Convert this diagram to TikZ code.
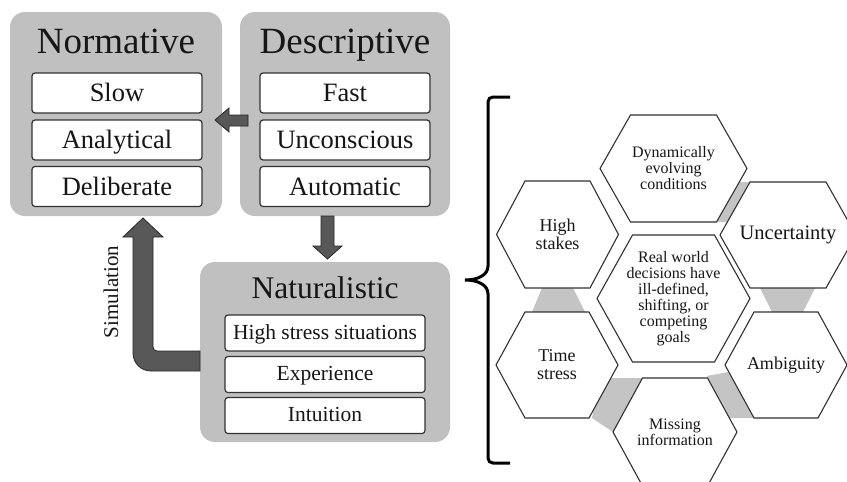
\documentclass[tikz,border=0pt]{standalone}
\usepackage{fontspec}
\setmainfont{Liberation Serif}

\definecolor{panel}{RGB}{192,192,192}
\definecolor{link}{RGB}{196,196,196}
\definecolor{arrowfill}{RGB}{88,88,88}
\definecolor{edge}{RGB}{50,50,50}
\definecolor{ink}{RGB}{22,22,22}

\newcommand\fs[1]{\fontsize{#1}{#1}\selectfont}

\tikzset{
  panelbox/.style={fill=panel, rounded corners=15pt, inner sep=0pt},
  itembox/.style={draw=edge, line width=1.2pt, fill=white, rounded corners=3pt,
    inner sep=0pt, text=ink},
  bigitem/.style={itembox, minimum width=170pt, minimum height=40pt,
    font=\fs{26.5}, text height=19pt, text depth=2pt},
  smallitem/.style={itembox, minimum width=200pt, minimum height=36pt,
    font=\fs{21.5}, text height=14pt, text depth=2pt},
  paneltitle/.style={anchor=base, text=ink, inner sep=0pt},
  blockarrow/.style={fill=arrowfill, draw=black!85, line width=0.8pt, line join=miter},
  hexline/.style={draw=edge, line width=1.1pt, fill=white, line join=miter},
  hextext/.style={align=center, text=ink, inner sep=0pt},
  linkfill/.style={fill=link},
}

% hexagon with pointed left/right ends: name, cx, cy, half width, half top edge, half height, font size, text
\newcommand\hexcell[8]{%
  \path[hexline] (#2-#4,#3) -- (#2-#5,#3-#6) -- (#2+#5,#3-#6) -- (#2+#4,#3)
    -- (#2+#5,#3+#6) -- (#2-#5,#3+#6) -- cycle;
  \node[hextext, font=\fs{#7}] (#1) at (#2,#3) {#8};
}

\begin{document}
\begin{tikzpicture}[x=1pt,y=-1pt]
\clip (0,0) rectangle (847,482);
\fill[white] (0,0) rectangle (847,482);

% ---- Normative panel ----
\node[panelbox, minimum width=212pt, minimum height=204pt] (norm) at (116,114) {};
\node[paneltitle, font=\fs{37}] (normT) at (116,53) {Normative};
\node[bigitem] (slow) at (117,93) {Slow};
\node[bigitem] (anal) at (117,140) {Analytical};
\node[bigitem] (deli) at (117,186.5) {Deliberate};

% ---- Descriptive panel ----
\node[panelbox, minimum width=210pt, minimum height=204pt] (desc) at (345,114) {};
\node[paneltitle, font=\fs{37}] (descT) at (345,53) {Descriptive};
\node[bigitem] (fast) at (345,93) {Fast};
\node[bigitem] (uncon) at (345,140) {Unconscious};
\node[bigitem] (auto) at (345,186.5) {Automatic};

% ---- Naturalistic panel ----
\node[panelbox, minimum width=250pt, minimum height=180pt] (nat) at (325,352) {};
\node[paneltitle, font=\fs{31.5}] (natT) at (325,298) {Naturalistic};
\node[smallitem] (stress) at (325,333) {High stress situations};
\node[smallitem] (exper) at (325,374.5) {Experience};
\node[smallitem] (intu) at (325,415.5) {Intuition};

% ---- block arrows between panels ----
% Descriptive -> Normative
\path[blockarrow] (248,115) -- (229,115) -- (229,108) -- (215,120) -- (229,132)
  -- (229,126) -- (248,126) -- cycle;
% Descriptive -> Naturalistic
\path[blockarrow] (321,216) -- (334,216) -- (334,246) -- (342,246) -- (327.5,259)
  -- (313,246) -- (321,246) -- cycle;
% Naturalistic -> Normative (elbow)
\path[blockarrow] (200,351) -- (157,351) .. controls (154.8,351) and (153,349.2) .. (153,347)
  -- (153,237) -- (163,237) -- (143,218) -- (123,237) -- (133,237) -- (133,353)
  .. controls (133,363) and (141,371) .. (151,371) -- (200,371) -- cycle;
\node[rotate=90, font=\fs{21}, text=ink, inner sep=0pt] (sim) at (111,292) {Simulation};

% ---- curly brace ----
\draw[line width=3pt, black] (510,97) -- (493,97) .. controls (490,97) and (488,99) .. (488,102)
  -- (488,266) .. controls (488,275) and (478,280) .. (465,280)
  .. controls (478,280) and (488,285) .. (488,294)
  -- (488,458) .. controls (488,461) and (490,463) .. (493,463) -- (510,463);

% ---- grey links between neighbouring hexagons ----
\path[linkfill] (542,288) -- (573,288) -- (585,312) -- (532,312) -- cycle;
\path[linkfill] (760,288) -- (815,288) -- (803,312) -- (772,312) -- cycle;
\path[linkfill] (735,182) -- (760,182) -- (730,222) -- (712,222) -- cycle;
\path[linkfill] (600,378) -- (650,378) -- (613,432) -- (592,418) -- cycle;
\path[linkfill] (707,376) -- (728,372) -- (758,418) -- (728,418) -- cycle;

% ---- hexagon cluster ----
\hexcell{dyn}{673.5}{168.5}{73.5}{43}{53.5}{16}{Dynamically\\evolving\\conditions}
\hexcell{high}{557.5}{234.5}{61}{32.5}{53.5}{18}{High\\stakes}
\hexcell{unc}{788}{235}{68}{38}{53}{20.5}{Uncertainty}
\hexcell{core}{673.5}{298.5}{76.5}{41}{63.5}{16}{Real world\\decisions have\\ill-defined,\\shifting, or\\competing\\goals}
\hexcell{time}{557}{365}{61}{32}{53}{18}{Time\\stress}
\hexcell{amb}{786}{365}{61}{32}{53}{18}{Ambiguity}
\hexcell{miss}{675}{432}{62}{32.5}{54}{16}{Missing\\information}
\end{tikzpicture}
\end{document}
